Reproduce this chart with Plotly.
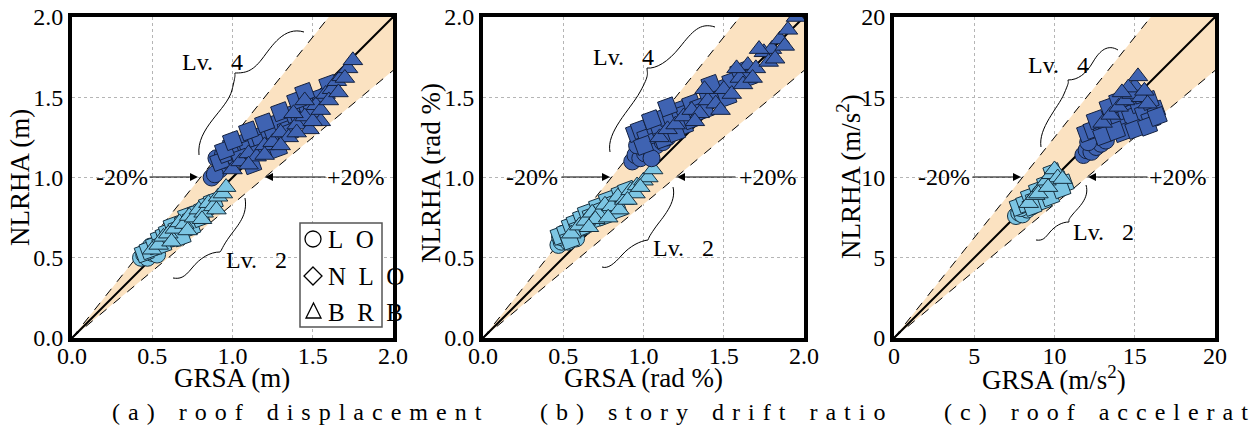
import plotly.graph_objects as go

W, H = 1256, 429
FONT = "Liberation Serif, Times New Roman, DejaVu Serif, serif"

# ---------------- data ----------------
# panel (a) roof displacement [m]
a_lv2_circ_x = [0.43, 0.45, 0.47, 0.46, 0.50, 0.52, 0.55, 0.58, 0.62, 0.66, 0.49, 0.53]
a_lv2_circ_y = [0.50, 0.52, 0.50, 0.54, 0.53, 0.56, 0.58, 0.60, 0.62, 0.66, 0.57, 0.52]
a_lv2_diam_x = [0.45, 0.48, 0.52, 0.55, 0.58, 0.60, 0.63, 0.66, 0.70, 0.72, 0.75, 0.78, 0.82, 0.85,
                0.88, 0.56, 0.64, 0.74, 0.80, 0.68]
a_lv2_diam_y = [0.53, 0.55, 0.58, 0.62, 0.64, 0.66, 0.70, 0.68, 0.72, 0.76, 0.74, 0.78, 0.80, 0.83,
                0.85, 0.58, 0.64, 0.69, 0.75, 0.63]
a_lv2_tri_x = [0.50, 0.54, 0.57, 0.60, 0.64, 0.67, 0.70, 0.73, 0.76, 0.79, 0.82, 0.85, 0.88, 0.91,
               0.94, 0.96, 0.62, 0.72, 0.81, 0.90]
a_lv2_tri_y = [0.55, 0.58, 0.63, 0.65, 0.68, 0.72, 0.71, 0.76, 0.75, 0.80, 0.78, 0.84, 0.82, 0.88,
               0.90, 0.94, 0.60, 0.67, 0.74, 0.80]
a_lv4_circ_x = [0.90, 0.94, 0.92, 0.95, 0.98, 1.02, 1.06, 1.10, 0.87, 0.89, 0.97, 1.04]
a_lv4_circ_y = [1.12, 1.14, 1.05, 1.08, 1.10, 1.12, 1.14, 1.17, 1.00, 1.02, 1.16, 1.20]
a_lv4_diam_x = [0.92, 0.96, 1.00, 1.03, 1.07, 1.10, 1.14, 1.18, 1.22, 1.26, 1.30, 1.34, 1.38, 1.42,
                1.46, 1.50, 1.55, 1.60, 1.05, 1.15, 1.25, 1.35, 0.95, 1.00, 1.10, 1.20, 1.30, 1.40,
                1.45, 1.12, 1.28]
a_lv4_diam_y = [1.10, 1.15, 1.20, 1.16, 1.22, 1.18, 1.25, 1.22, 1.30, 1.26, 1.35, 1.30, 1.40, 1.36,
                1.45, 1.42, 1.50, 1.58, 1.12, 1.15, 1.20, 1.28, 1.17, 1.23, 1.29, 1.34, 1.41, 1.48,
                1.53, 1.08, 1.18]
a_lv4_tri_x = [1.00, 1.05, 1.10, 1.15, 1.20, 1.25, 1.30, 1.35, 1.40, 1.45, 1.48, 1.52, 1.55, 1.58,
               1.62, 1.65, 1.68, 1.72, 1.75, 1.38, 1.45, 1.50, 1.30, 1.40, 1.55, 1.60, 1.66, 1.70,
               1.20, 1.10]
a_lv4_tri_y = [1.05, 1.10, 1.15, 1.13, 1.20, 1.22, 1.28, 1.25, 1.33, 1.38, 1.30, 1.45, 1.35, 1.52,
               1.55, 1.60, 1.63, 1.68, 1.73, 1.40, 1.48, 1.35, 1.20, 1.28, 1.42, 1.48, 1.53, 1.62,
               1.14, 1.08]

# panel (b) story drift ratio [rad %]
b_lv2_circ_x = [0.47, 0.49, 0.51, 0.53, 0.56, 0.50, 0.55, 0.60, 0.58, 0.48]
b_lv2_circ_y = [0.58, 0.60, 0.62, 0.60, 0.63, 0.65, 0.66, 0.68, 0.62, 0.63]
b_lv2_diam_x = [0.48, 0.52, 0.55, 0.58, 0.62, 0.65, 0.68, 0.72, 0.75, 0.78, 0.82, 0.86, 0.90, 0.60,
                0.70, 0.54, 0.64, 0.76, 0.84]
b_lv2_diam_y = [0.64, 0.66, 0.70, 0.72, 0.75, 0.78, 0.76, 0.82, 0.80, 0.86, 0.84, 0.90, 0.92, 0.68,
                0.74, 0.61, 0.70, 0.76, 0.80]
b_lv2_tri_x = [0.55, 0.60, 0.64, 0.68, 0.72, 0.76, 0.80, 0.84, 0.88, 0.92, 0.96, 1.00, 1.03, 1.06,
               0.70, 0.85, 0.95, 0.66, 0.78, 0.90, 0.98]
b_lv2_tri_y = [0.65, 0.70, 0.73, 0.78, 0.77, 0.83, 0.82, 0.88, 0.86, 0.92, 0.95, 0.98, 1.00, 1.05,
               0.74, 0.80, 0.90, 0.69, 0.75, 0.86, 0.94]
b_lv4_circ_x = [0.93, 0.95, 0.98, 1.01, 1.04, 1.08, 0.96, 1.00, 1.05, 1.12, 0.99, 1.15]
b_lv4_circ_y = [1.10, 1.14, 1.12, 1.15, 1.18, 1.20, 1.20, 1.24, 1.12, 1.22, 1.28, 1.25]
b_lv4_diam_x = [0.95, 0.98, 1.02, 1.06, 1.10, 1.14, 1.18, 1.22, 1.26, 1.30, 1.35, 1.40, 1.45, 1.50,
                1.55, 1.60, 1.00, 1.12, 1.25, 1.38, 1.05, 1.15, 1.20, 1.30, 1.42, 1.52, 1.65]
b_lv4_diam_y = [1.28, 1.30, 1.25, 1.33, 1.30, 1.38, 1.35, 1.42, 1.40, 1.46, 1.44, 1.52, 1.50, 1.56,
                1.60, 1.66, 1.20, 1.24, 1.32, 1.42, 1.36, 1.44, 1.28, 1.36, 1.58, 1.50, 1.62]
b_lv4_tri_x = [1.10, 1.15, 1.20, 1.25, 1.30, 1.35, 1.40, 1.45, 1.50, 1.55, 1.60, 1.65, 1.70, 1.75,
               1.80, 1.85, 1.90, 1.95, 1.32, 1.48, 1.62, 1.78, 1.38, 1.58, 1.68, 1.72, 1.82, 1.88]
b_lv4_tri_y = [1.25, 1.30, 1.33, 1.38, 1.42, 1.40, 1.48, 1.46, 1.55, 1.52, 1.62, 1.70, 1.68, 1.78,
               1.80, 1.86, 1.92, 2.00, 1.35, 1.42, 1.58, 1.72, 1.55, 1.68, 1.62, 1.80, 1.74, 1.82]

# panel (c) roof acceleration [m/s2]
c_lv2_circ_x = [7.6, 7.8, 8.0, 8.3, 8.6, 7.9]
c_lv2_circ_y = [7.6, 7.8, 7.7, 8.0, 8.2, 8.1]
c_lv2_diam_x = [7.8, 8.2, 8.5, 8.8, 9.0, 9.3, 9.5, 9.8, 10.0, 10.3, 10.6, 9.2, 9.7, 8.6, 10.4, 9.9]
c_lv2_diam_y = [8.2, 8.4, 8.8, 8.6, 9.2, 9.0, 9.6, 9.3, 10.0, 9.8, 9.6, 8.5, 8.8, 8.2, 9.3, 10.3]
c_lv2_tri_x = [8.4, 8.8, 9.2, 9.5, 9.8, 10.0, 10.2, 9.0, 9.6, 10.5]
c_lv2_tri_y = [8.4, 8.9, 9.4, 9.8, 10.2, 10.5, 10.0, 9.0, 9.4, 9.9]
c_lv4_circ_x = [11.8, 12.0, 12.3, 12.6, 12.9, 13.2, 12.1]
c_lv4_circ_y = [11.4, 11.7, 11.6, 11.9, 12.1, 12.3, 12.2]
c_lv4_diam_x = [12.0, 12.4, 12.8, 13.2, 13.6, 14.0, 14.4, 14.8, 15.2, 15.6, 16.0, 16.3, 13.0, 14.2,
                15.0, 15.8, 12.6, 14.6, 16.4, 13.4, 14.0, 15.4, 15.9, 13.8]
c_lv4_diam_y = [12.8, 13.0, 13.4, 13.2, 13.8, 13.6, 14.2, 13.8, 14.6, 14.0, 13.6, 14.2, 12.6, 12.8,
                13.0, 13.2, 13.6, 15.0, 13.8, 14.4, 14.8, 15.2, 14.8, 12.9]
c_lv4_tri_x = [13.0, 13.5, 14.0, 14.4, 14.8, 15.0, 15.2, 15.4, 14.6, 15.6, 14.2, 15.8]
c_lv4_tri_y = [13.4, 13.9, 14.4, 14.8, 15.2, 15.7, 16.3, 15.0, 15.6, 15.4, 15.3, 14.6]

tick_a = [0, 0.5, 1.0, 1.5, 2.0]
tick_a_text = ["0.0", "0.5", "1.0", "1.5", "2.0"]
tick_c = [0, 5, 10, 15, 20]
tick_c_text = ["0", "5", "10", "15", "20"]

x_titles = ["GRSA (m)", "GRSA (rad %)", "GRSA (m/s<sup>2</sup>)"]
y_titles = ["NLRHA (m)", "NLRHA (rad %)", "NLRHA (m/s<sup>2</sup>)"]
captions = ["(a) roof displacement", "(b) story drift ratio", "(c) roof acceleration"]
legend_names = ["L O", "N L O", "B R B"]

LO_RATIO, HI_RATIO = 0.8, 1.2   # GRSA / NLRHA band (-20 %, +20 %)

# ---------------- styling ----------------
LIGHT = "#7cc5e3"
DARK = "#3f63b2"
EDGE_L = "#16303f"
EDGE_D = "#14213f"
BAND = "#fbe2c1"

def px(x, y):
    return x / W, 1 - y / H

def ppath(cmds):
    out = []
    for c in cmds:
        if isinstance(c, str):
            out.append(c)
        else:
            xx, yy = px(*c)
            out.append(f"{xx:.5f},{yy:.5f}")
    return " ".join(out)

panels = [
    dict(dom=(72, 393), rng=2.0, tv=tick_a, tt=tick_a_text,
         data=[(a_lv2_circ_x, a_lv2_circ_y, a_lv2_diam_x, a_lv2_diam_y, a_lv2_tri_x, a_lv2_tri_y),
               (a_lv4_circ_x, a_lv4_circ_y, a_lv4_diam_x, a_lv4_diam_y, a_lv4_tri_x, a_lv4_tri_y)]),
    dict(dom=(483, 804), rng=2.0, tv=tick_a, tt=tick_a_text,
         data=[(b_lv2_circ_x, b_lv2_circ_y, b_lv2_diam_x, b_lv2_diam_y, b_lv2_tri_x, b_lv2_tri_y),
               (b_lv4_circ_x, b_lv4_circ_y, b_lv4_diam_x, b_lv4_diam_y, b_lv4_tri_x, b_lv4_tri_y)]),
    dict(dom=(894, 1215), rng=20.0, tv=tick_c, tt=tick_c_text,
         data=[(c_lv2_circ_x, c_lv2_circ_y, c_lv2_diam_x, c_lv2_diam_y, c_lv2_tri_x, c_lv2_tri_y),
               (c_lv4_circ_x, c_lv4_circ_y, c_lv4_diam_x, c_lv4_diam_y, c_lv4_tri_x, c_lv4_tri_y)]),
]
TOP, BOT = 17, 338

fig = go.Figure()
layout = dict(width=W, height=H, margin=dict(l=0, r=0, t=0, b=0, pad=0),
              paper_bgcolor="white", plot_bgcolor="white", showlegend=False,
              font=dict(family=FONT, color="black"))
annotations, shapes = [], []

for i, p in enumerate(panels):
    sfx = "" if i == 0 else str(i + 1)
    xa, ya = "x" + sfx, "y" + sfx
    r = p["rng"]
    fig.add_trace(go.Scatter(x=[0, r, r, LO_RATIO * r, 0], y=[0, r / HI_RATIO, r, r, 0],
                             fill="toself", fillcolor=BAND, mode="none", xaxis=xa, yaxis=ya,
                             hoverinfo="skip"))
    fig.add_trace(go.Scatter(x=[0, LO_RATIO * r], y=[0, r], mode="lines",
                             line=dict(color="black", width=1, dash="dash"), xaxis=xa, yaxis=ya))
    fig.add_trace(go.Scatter(x=[0, r], y=[0, r / HI_RATIO], mode="lines",
                             line=dict(color="black", width=1, dash="dash"), xaxis=xa, yaxis=ya))
    fig.add_trace(go.Scatter(x=[0, r], y=[0, r], mode="lines",
                             line=dict(color="black", width=2), xaxis=xa, yaxis=ya))
    for lvl, (cx, cy, dx, dy, tx, ty) in enumerate(p["data"]):
        col = LIGHT if lvl == 0 else DARK
        edge = EDGE_L if lvl == 0 else EDGE_D
        for xs, ys, sym, size, ang in [(cx, cy, "circle", 17, 0), (dx, dy, "diamond", 17, 25),
                                       (tx, ty, "triangle-up", 17, 0)]:
            fig.add_trace(go.Scatter(x=xs, y=ys, mode="markers", xaxis=xa, yaxis=ya,
                                     marker=dict(symbol=sym, size=size, color=col, angle=ang,
                                                 line=dict(color=edge, width=1))))
    d0, d1 = p["dom"]
    common = dict(range=[0, r], showline=True, linewidth=4, linecolor="black", mirror=True,
                  showgrid=True, gridcolor="#b5b5b5", griddash="dot", gridwidth=1,
                  zeroline=False, ticks="", tickvals=p["tv"], ticktext=p["tt"], automargin=False,
                  tickfont=dict(family=FONT, size=24, color="black"), fixedrange=True)
    layout["xaxis" + sfx] = dict(common, domain=[d0 / W, d1 / W], anchor=ya, ticklabelstandoff=-7)
    layout["yaxis" + sfx] = dict(common, domain=[1 - BOT / H, 1 - TOP / H], anchor=xa)

# ---------- axis titles & captions ----------
xt_pos = [232, 643, 1054]
yt_pos = [(20, 178), (431, 173), (849, 177)]
for i in range(3):
    x, y = px(xt_pos[i], 378)
    annotations.append(dict(x=x, y=y, xref="paper", yref="paper", text=x_titles[i], showarrow=False,
                            font=dict(size=27, family=FONT), xanchor="center", yanchor="middle"))
    x, y = px(*yt_pos[i])
    annotations.append(dict(x=x, y=y, xref="paper", yref="paper", text=y_titles[i], showarrow=False,
                            textangle=-90, font=dict(size=27, family=FONT),
                            xanchor="center", yanchor="middle"))

def spaced(s):
    gap = "\u2004"
    wgap = "\u2004\u2004\u2004"
    return wgap.join(gap.join(list(w)) for w in s.split(" "))

cap_x = [110, 538, 942]
for i in range(3):
    x, y = px(cap_x[i], 412)
    annotations.append(dict(x=x, y=y, xref="paper", yref="paper", text=spaced(captions[i]),
                            showarrow=False, font=dict(size=24, family=FONT),
                            xanchor="left", yanchor="middle"))

# ---------- Lv labels, +-20 % arrows, braces ----------
ann_txt = [
    [("Lv.\u00a0\u00a0\u00a04", 212, 62), ("Lv.\u00a0\u00a0\u00a02", 256, 260), ("-20%", 122, 177), ("+20%", 356, 177)],
    [("Lv.\u00a0\u00a0\u00a04", 623, 57), ("Lv.\u00a0\u00a0\u00a02", 683, 248), ("-20%", 532, 177), ("+20%", 768, 177)],
    [("Lv.\u00a0\u00a0\u00a04", 1058, 65), ("Lv.\u00a0\u00a0\u00a02", 1103, 232), ("-20%", 944, 177), ("+20%", 1178, 177)],
]
for row in ann_txt:
    for t, xx, yy in row:
        x, y = px(xx, yy)
        annotations.append(dict(x=x, y=y, xref="paper", yref="paper", text=t, showarrow=False,
                                font=dict(size=24, family=FONT), xanchor="center", yanchor="middle"))

arrows = [(148, 198), (327, 265), (560, 610), (737, 677), (971, 1021), (1149, 1088)]
for tail, head in arrows:
    x, y = px(head, 177)
    annotations.append(dict(x=x, y=y, xref="paper", yref="paper", text="", showarrow=True,
                            ax=tail - head, ay=0, arrowhead=2, arrowsize=1.6, arrowwidth=1,
                            arrowcolor="black", standoff=0))

braces = [
    [(199, 155), "C", (196, 128), (227, 110), (232, 90), "S", (234, 76), (235, 73),
     "C", (245, 73), (252, 72), (262, 59), "S", (284, 26), (304, 32)],
    [(245, 198), "C", (248, 215), (238, 225), (230, 236), "S", (222, 250), (220, 252),
     "C", (210, 252), (200, 258), (192, 268), "S", (180, 279), (173, 278)],
    [(610, 152), "C", (606, 132), (630, 110), (640, 92), "S", (647, 74), (647, 68),
     "C", (656, 69), (668, 62), (680, 47), "S", (700, 22), (715, 27)],
    [(673, 187), "C", (677, 203), (662, 218), (655, 228), "S", (649, 238), (648, 240),
     "C", (640, 241), (630, 246), (622, 255), "S", (608, 269), (602, 267)],
    [(1041, 147), "C", (1038, 128), (1058, 108), (1064, 94), "S", (1068, 83), (1068, 80),
     "C", (1078, 80), (1086, 74), (1093, 62), "S", (1108, 44), (1118, 50)],
    [(1086, 185), "C", (1090, 198), (1078, 208), (1073, 214), "S", (1069, 220), (1069, 222),
     "C", (1062, 222), (1055, 226), (1050, 232), "S", (1043, 241), (1036, 240)],
]
for b in braces:
    shapes.append(dict(type="path", xref="paper", yref="paper", path="M " + ppath(b),
                       line=dict(color="black", width=1)))

# ---------- legend box in panel (a) ----------
x0, y0 = px(300, 223)
x1, y1 = px(382, 327)
shapes.append(dict(type="rect", xref="paper", yref="paper", x0=x0, y0=y1, x1=x1, y1=y0,
                   line=dict(color="#555555", width=1.5), fillcolor="white"))
cx0, cy0 = px(305, 231)
cx1, cy1 = px(321, 247)
shapes.append(dict(type="circle", xref="paper", yref="paper", x0=cx0, y0=cy1, x1=cx1, y1=cy0,
                   line=dict(color="black", width=1.3)))
shapes.append(dict(type="path", xref="paper", yref="paper",
                   path="M " + ppath([(313, 267), "L", (322, 276), "L", (313, 285), "L", (304, 276)]) + " Z",
                   line=dict(color="black", width=1.3)))
shapes.append(dict(type="path", xref="paper", yref="paper",
                   path="M " + ppath([(313.5, 303), "L", (321, 318), "L", (306, 318)]) + " Z",
                   line=dict(color="black", width=1.3)))
for name, yy in zip(legend_names, [239, 276, 312]):
    x, y = px(326, yy)
    annotations.append(dict(x=x, y=y, xref="paper", yref="paper",
                            text=name.replace(" ", "\u2002"), showarrow=False,
                            font=dict(size=25, family=FONT), xanchor="left", yanchor="middle"))

layout["annotations"] = annotations
layout["shapes"] = shapes
fig.update_layout(**layout)
fig.write_html("out.html", config={"displayModeBar": False})
